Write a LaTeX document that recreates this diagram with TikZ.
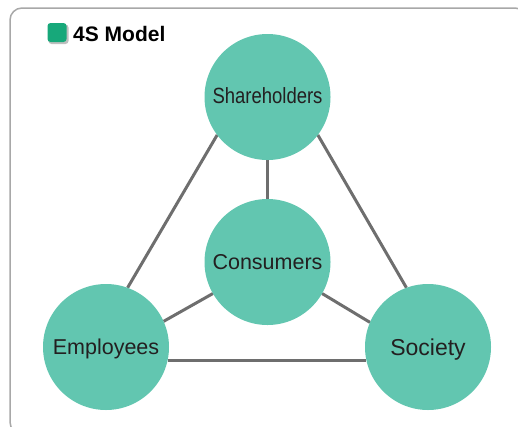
\documentclass[tikz,border=0pt]{standalone}
\usepackage{fontspec}
\usepackage{graphicx}
\setmainfont{Liberation Sans}
\usetikzlibrary{backgrounds}
\definecolor{teal4s}{HTML}{62C6B0}
\definecolor{linegray}{HTML}{6E6E6E}
\definecolor{framegray}{HTML}{A8A8A8}
\definecolor{titlegreen}{HTML}{17A87A}
\definecolor{labeltext}{HTML}{231F20}
\begin{document}
\begin{tikzpicture}[x=1pt,y=-1pt,
  party/.style={circle, fill=teal4s, minimum size=126pt, inner sep=0pt, outer sep=0pt,
    text=labeltext, text height=15.5pt, text depth=0pt, font=\fontsize{21.5}{24}\selectfont},
  link/.style={draw=linegray, line width=3pt},
  framebox/.style={draw=framegray, line width=1.5pt, rounded corners=12pt}]
\useasboundingbox (0,0) rectangle (518,426);
\begin{scope}
  \clip (0,0) rectangle (518,426);
  \draw[framebox] (10,8) rectangle (527,434);
\end{scope}
% title
\fill[black!25, rounded corners=3pt] (48.5,24.5) rectangle (68.5,44);
\node[fill=titlegreen, rounded corners=3pt, minimum size=19pt, inner sep=0pt] (sq) at (57,32.5) {};
\node[anchor=west, inner sep=0pt, font=\bfseries\fontsize{21}{24}\selectfont] (title) at (73,33.5) {4S Model};
% circles
\node[party, text height=12pt] (sh) at (267.5,97) {\scalebox{0.84}[1]{\fontsize{22}{24}\selectfont Shareholders}};
\node[party] (cons) at (267.5,262) {Consumers};
\node[party] (emp) at (106,347) {Employees};
\node[party, text height=16.5pt, font=\fontsize{23}{26}\selectfont] (soc) at (428,347) {Society};
% connectors
\begin{scope}[on background layer]
  \draw[link] (sh.217) -- (emp.70);
  \draw[link] (sh.323) -- (soc.110);
  \draw[link] (sh.270) -- (cons.90);
  \draw[link] (cons.210) -- (emp.24);
  \draw[link] (cons.330) -- (soc.157);
  \draw[link] (emp.348) -- (soc.192);
\end{scope}
\end{tikzpicture}
\end{document}
